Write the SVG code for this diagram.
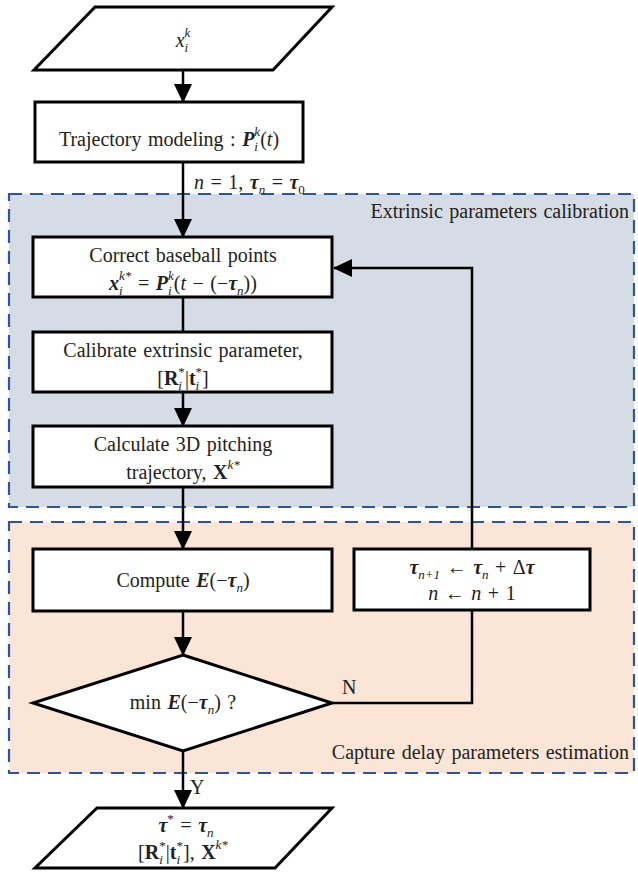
<svg xmlns="http://www.w3.org/2000/svg" width="638" height="873" viewBox="0 0 638 873">
<style>
text{font-family:"Liberation Serif","DejaVu Serif",serif;font-size:20px;fill:#222;word-spacing:1.5px}
.c{text-anchor:middle}
.e{text-anchor:end}
.i{font-style:italic}
.bi{font-style:italic;font-weight:bold}
.b{font-weight:bold}
.s{font-size:13px;word-spacing:0}
.node{fill:#fff;stroke:#000;stroke-width:3}
.edge{fill:none;stroke:#000;stroke-width:2.5}
.region{stroke:#2f5597;stroke-width:2.2;stroke-dasharray:13 8}
</style>
<defs>
<marker id="ah" markerUnits="userSpaceOnUse" markerWidth="20" markerHeight="20" viewBox="0 0 20 20" refX="18" refY="10" orient="auto">
<path d="M0,1 L19,10 L0,19 z" fill="#000"/>
</marker>
</defs>

<g id="regions">
<rect class="region" x="9" y="194" width="625" height="313" fill="#d6dce5"/>
<rect class="region" x="9" y="522" width="625" height="251" fill="#fbe5d6"/>
<text class="e" x="629" y="218">Extrinsic parameters calibration</text>
<text class="e" x="629" y="759">Capture delay parameters estimation</text>
</g>

<g id="connectors">
<line class="edge" x1="183" y1="70" x2="183" y2="102" marker-end="url(#ah)"/>
<line class="edge" x1="183" y1="162" x2="183" y2="237" marker-end="url(#ah)"/>
<line class="edge" x1="183" y1="297" x2="183" y2="332"/>
<line class="edge" x1="183" y1="392" x2="183" y2="426" marker-end="url(#ah)"/>
<line class="edge" x1="183" y1="487" x2="183" y2="549" marker-end="url(#ah)"/>
<line class="edge" x1="183" y1="611" x2="183" y2="655" marker-end="url(#ah)"/>
<line class="edge" x1="183" y1="751" x2="183" y2="808" marker-end="url(#ah)"/>
<polyline class="edge" points="332,703 472,703 472,610"/>
<polyline class="edge" points="472,549 472,268 334,268" marker-end="url(#ah)"/>
<text x="194" y="189"><tspan class="i">n</tspan> = 1, <tspan class="bi">τ</tspan><tspan class="s i" dy="5">n</tspan><tspan dy="-5"> = </tspan><tspan class="bi">τ</tspan><tspan class="s" dy="5">0</tspan></text>
<text x="342" y="694">N</text>
<text x="190" y="794">Y</text>
</g>

<g id="input">
<polygon class="node" points="95,7 332,7 273,70 34,70"/>
<text class="c" x="183" y="47"><tspan class="i">x</tspan><tspan class="s i" dy="-10">k</tspan><tspan class="s i" dx="-5.8" dy="15">i</tspan></text>
</g>

<g id="trajectory-modeling">
<rect class="node" x="35" y="102" width="268" height="60"/>
<text class="c" x="169" y="146">Trajectory modeling : <tspan class="bi">P</tspan><tspan class="s i" dy="-10">k</tspan><tspan class="s i" dx="-5.8" dy="15">i</tspan><tspan dx="2.2" dy="-5">(</tspan><tspan class="i">t</tspan>)</text>
</g>

<g id="correct-points">
<rect class="node" x="33" y="237" width="299" height="60"/>
<text class="c" x="183" y="262">Correct baseball points</text>
<text class="c" x="183" y="290"><tspan class="bi">x</tspan><tspan class="s i" dy="-10">k*</tspan><tspan class="s i" dx="-12.3" dy="15">i</tspan><tspan dx="8.7" dy="-5"> = </tspan><tspan class="bi">P</tspan><tspan class="s i" dy="-10">k</tspan><tspan class="s i" dx="-5.8" dy="15">i</tspan><tspan dx="2.2" dy="-5">(</tspan><tspan class="i">t</tspan> − (−<tspan class="bi">τ</tspan><tspan class="s i" dy="5">n</tspan><tspan dy="-5">))</tspan></text>
</g>

<g id="calibrate-extrinsic">
<rect class="node" x="33" y="332" width="299" height="60"/>
<text class="c" x="183" y="357">Calibrate extrinsic parameter,</text>
<text class="c" x="183" y="385">[<tspan class="b">R</tspan><tspan class="s" dy="-9">*</tspan><tspan class="s i" dx="-6.5" dy="14">i</tspan><tspan dx="2.9" dy="-5">|</tspan><tspan class="b">t</tspan><tspan class="s" dy="-9">*</tspan><tspan class="s i" dx="-6.5" dy="14">i</tspan><tspan dx="2.9" dy="-5">]</tspan></text>
</g>

<g id="calculate-3d">
<rect class="node" x="33" y="426" width="299" height="61"/>
<text class="c" x="183" y="451">Calculate 3D pitching</text>
<text class="c" x="183" y="479">trajectory, <tspan class="b">X</tspan><tspan class="s i" dy="-10">k*</tspan></text>
</g>

<g id="compute-error">
<rect class="node" x="33" y="549" width="299" height="62"/>
<text class="c" x="183" y="587">Compute <tspan class="bi">E</tspan>(−<tspan class="bi">τ</tspan><tspan class="s i" dy="5">n</tspan><tspan dy="-5">)</tspan></text>
</g>

<g id="update-tau">
<rect class="node" x="354" y="549" width="236" height="61"/>
<text class="c" x="472" y="574"><tspan class="bi">τ</tspan><tspan class="s i" dy="5">n+1</tspan><tspan dy="-5"> ← </tspan><tspan class="bi">τ</tspan><tspan class="s i" dy="5">n</tspan><tspan dy="-5"> + Δ</tspan><tspan class="bi">τ</tspan></text>
<text class="c" x="472" y="600"><tspan class="i">n</tspan> ← <tspan class="i">n</tspan> + 1</text>
</g>

<g id="min-decision">
<polygon class="node" points="183,655 332,703 183,751 33,703"/>
<text class="c" x="183" y="709">min <tspan class="bi">E</tspan>(−<tspan class="bi">τ</tspan><tspan class="s i" dy="5">n</tspan><tspan dy="-5">) ?</tspan></text>
</g>

<g id="output">
<polygon class="node" points="97,808 332,808 275,868 35,868"/>
<text class="c" x="186" y="832"><tspan class="bi">τ</tspan><tspan class="s" dy="-9">*</tspan><tspan dy="9"> = </tspan><tspan class="bi">τ</tspan><tspan class="s i" dy="5">n</tspan></text>
<text class="c" x="183" y="859">[<tspan class="b">R</tspan><tspan class="s" dy="-9">*</tspan><tspan class="s i" dx="-6.5" dy="14">i</tspan><tspan dx="2.9" dy="-5">|</tspan><tspan class="b">t</tspan><tspan class="s" dy="-9">*</tspan><tspan class="s i" dx="-6.5" dy="14">i</tspan><tspan dx="2.9" dy="-5">], </tspan><tspan class="b">X</tspan><tspan class="s i" dy="-10">k*</tspan></text>
</g>
</svg>
